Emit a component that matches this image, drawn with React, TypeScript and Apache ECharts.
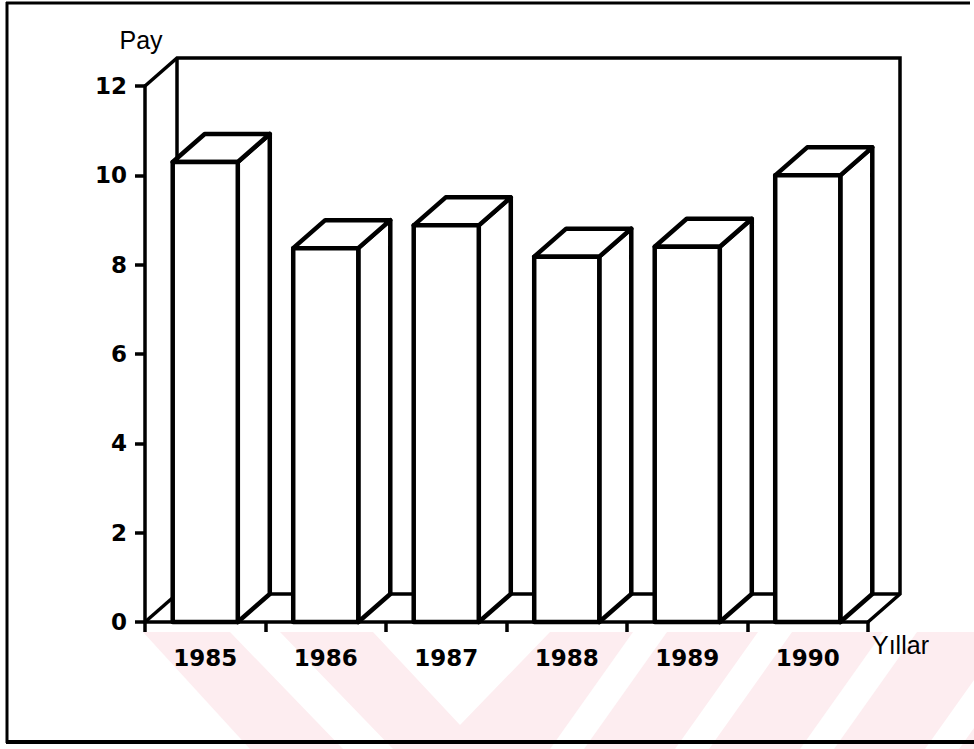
import React, { useEffect, useRef } from "react";
import * as echarts from "echarts";

const years = ["1985", "1986", "1987", "1988", "1989", "1990"];
const pay = [10.3, 8.37, 8.88, 8.18, 8.4, 10.0];
const yTicks = { min: 0, max: 12, interval: 2 };

const DX = 32;
const DY = -28;
const BAR_FRAC = 0.54;
const INK = "#000";
const PINK = "#fdedf0";
const LABEL_FONT = "DejaVu Sans";
const NAME_FONT = "Liberation Sans";

function watermark() {
  const els: any[] = [];
  const yT = 632;
  const yB = 749;
  const white = { fill: "#fff" };
  els.push({ type: "rect", z: -10, silent: true, shape: { x: 143, y: yT, width: 974 - 143, height: yB - yT }, style: { fill: PINK } });
  els.push({ type: "polygon", z: -9, silent: true, shape: { points: [[143, yT], [250, yB], [143, yB]] }, style: white });
  els.push({ type: "polygon", z: -9, silent: true, shape: { points: [[230, yT], [280, yT], [393, yB], [343, yB]] }, style: white });
  els.push({ type: "polygon", z: -9, silent: true, shape: { points: [[373, yT], [550, yT], [460, 725]] }, style: white });
  const tops = [650, 775, 900, 1025];
  const shift = 78;
  const hw = 17;
  tops.forEach((c) => {
    const s = (shift * (yB - yT)) / 110;
    els.push({
      type: "polygon", z: -9, silent: true,
      shape: { points: [[c - hw, yT], [c + hw, yT], [c + hw - s, yB], [c - hw - s, yB]] },
      style: white,
    });
  });
  const frame = { stroke: INK, lineWidth: 3 };
  els.push({ type: "line", z: 10, silent: true, shape: { x1: 6, y1: 3, x2: 970, y2: 3 }, style: frame });
  els.push({ type: "line", z: 10, silent: true, shape: { x1: 7, y1: 2, x2: 7, y2: 743 }, style: frame });
  els.push({ type: "line", z: 10, silent: true, shape: { x1: 6, y1: 742, x2: 974, y2: 742 }, style: { stroke: INK, lineWidth: 4 } });
  return els;
}

export default function App() {
  const ref = useRef<HTMLDivElement>(null);
  useEffect(() => {
    if (!ref.current) return;
    const chart = echarts.init(ref.current, null, { renderer: "svg" });
    const option: any = {
      animation: false,
      backgroundColor: "#fff",
      graphic: { elements: watermark() },
      grid: { left: 145, top: 86, width: 723, height: 536, containLabel: false },
      xAxis: {
        type: "category",
        data: years,
        boundaryGap: true,
        name: "Yıllar",
        nameLocation: "end",
        nameGap: 4,
        nameTextStyle: { fontSize: 25, fontFamily: NAME_FONT, color: INK, align: "left", verticalAlign: "top", padding: [10, 0, 0, 0] },
        axisLine: { show: true, lineStyle: { color: INK, width: 3.5 } },
        axisTick: { show: true, interval: 0, alignWithLabel: false, length: 10, lineStyle: { color: INK, width: 3.5 } },
        axisLabel: { interval: 0, margin: 24, fontSize: 23, fontWeight: "bold", fontFamily: LABEL_FONT, color: INK },
        splitLine: { show: false },
      },
      yAxis: {
        type: "value",
        min: yTicks.min,
        max: yTicks.max,
        interval: yTicks.interval,
        name: "Pay",
        nameLocation: "end",
        nameGap: 34,
        nameTextStyle: { fontSize: 25, fontFamily: NAME_FONT, color: INK, align: "center", padding: [0, 8, 0, 0] },
        axisLine: { show: true, lineStyle: { color: INK, width: 3.5 } },
        axisTick: { show: true, inside: false, length: 10, lineStyle: { color: INK, width: 3.5 } },
        axisLabel: { margin: 18, fontSize: 23, fontWeight: "bold", fontFamily: LABEL_FONT, color: INK },
        splitLine: { show: false },
      },
      series: [
        {
          type: "custom",
          name: "walls",
          silent: true,
          clip: false,
          z: 1,
          data: [[0, 0]],
          encode: { x: 0, y: 1 },
          renderItem: (params: any) => {
            const cs = params.coordSys;
            const x0 = cs.x, x1 = cs.x + cs.width, yTop = cs.y, yB = cs.y + cs.height;
            const st = { stroke: INK, lineWidth: 3.5, fill: "none", lineJoin: "miter" };
            return {
              type: "group",
              children: [
                { type: "polyline", shape: { points: [[x0, yTop], [x0 + DX, yTop + DY], [x1 + DX, yTop + DY], [x1 + DX, yB + DY], [x1, yB]] }, style: st },
                { type: "line", shape: { x1: x0 + DX, y1: yTop + DY, x2: x0 + DX, y2: yB + DY }, style: st },
                { type: "line", shape: { x1: x0 + DX, y1: yB + DY, x2: x1 + DX, y2: yB + DY }, style: st },
                { type: "line", shape: { x1: x0, y1: yB, x2: x0 + DX, y2: yB + DY }, style: st },
              ],
            };
          },
        },
        {
          type: "custom",
          name: "Pay",
          silent: true,
          clip: false,
          z: 2,
          data: pay.map((v, i) => [i, v]),
          encode: { x: 0, y: 1 },
          renderItem: (params: any, api: any) => {
            const i = api.value(0);
            const v = api.value(1);
            const top = api.coord([i, v]);
            const base = api.coord([i, 0]);
            const w = api.size([1, 0])[0] * BAR_FRAC;
            const x0 = top[0] - w / 2, x1 = top[0] + w / 2, yT = top[1], yB = base[1];
            const style = { fill: "#fff", stroke: INK, lineWidth: 4.5, lineJoin: "round" };
            return {
              type: "group",
              children: [
                { type: "polygon", shape: { points: [[x1, yT], [x1 + DX, yT + DY], [x1 + DX, yB + DY], [x1, yB]] }, style },
                { type: "polygon", shape: { points: [[x0, yT], [x1, yT], [x1 + DX, yT + DY], [x0 + DX, yT + DY]] }, style },
                { type: "rect", shape: { x: x0, y: yT, width: w, height: yB - yT }, style },
              ],
            };
          },
        },
      ],
    };
    chart.setOption(option);
    return () => chart.dispose();
  }, []);
  return <div ref={ref} style={{ position: "absolute", left: 0, top: 0, width: 974, height: 749 }} />;
}
